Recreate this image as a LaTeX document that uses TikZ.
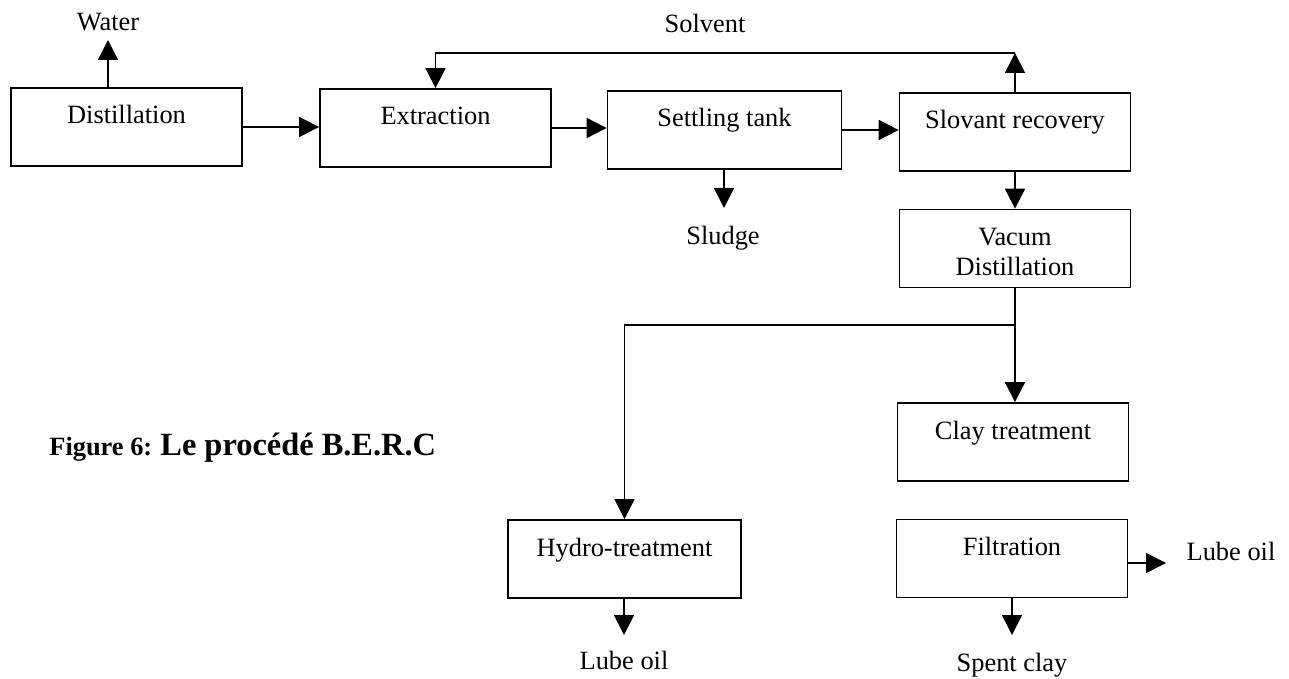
\documentclass[tikz,border=0pt]{standalone}
\usepackage{fontspec}
\setmainfont{Liberation Serif}
\usetikzlibrary{arrows.meta}
\tikzset{
  box/.style={draw, line width=0.9pt, inner sep=0pt, minimum width=115.5pt, minimum height=39pt,
    text height=18pt, text depth=21pt, font=\fontsize{13.2}{15}\selectfont},
  lbl/.style={inner sep=0pt, font=\fontsize{13.2}{15}\selectfont},
  arr/.style={line width=0.9pt, -{Triangle[length=10pt,width=10pt]}},
  ln/.style={line width=0.9pt}
}
\begin{document}
\begin{tikzpicture}[x=0.5pt,y=-0.5pt]
\useasboundingbox (0,0) rectangle (1289,679);
% boxes
\node[box] (dist) at (126.5,127) {Distillation};
\node[box] (ext) at (435.5,128) {Extraction};
\node[box, minimum width=117pt] (settle) at (724.5,130) {Settling tank};
\node[box] (slov) at (1015,132) {Slovant recovery};
\node[box] (vac) at (1015,248.5) {\begin{tabular}[t]{@{}c@{}}Vacum\\Distillation\end{tabular}};
\node[box] (clay) at (1013,442) {Clay treatment};
\node[box] (filt) at (1012,558.5) {Filtration};
\node[box, minimum width=116.5pt] (hydro) at (624.5,559) {Hydro-treatment};
% labels
\node[lbl] (water) at (108,22) {Water};
\node[lbl] (solvent) at (705,23) {Solvent};
\node[lbl] (sludge) at (723,238) {Sludge};
\node[lbl] (lube1) at (624,660) {Lube oil};
\node[lbl] (spent) at (1012,665) {Spent clay};
\node[lbl] (lube2) at (1231,551) {Lube oil};
\node[anchor=base west, inner sep=0pt, font=\bfseries\fontsize{13.2}{15}\selectfont] (figlbl) at (49,455) {Figure 6:};
\node[anchor=base west, inner sep=0pt, font=\bfseries\fontsize{16.2}{18}\selectfont] (figtitle) at (160,455) {Le procédé B.E.R.C};
% coordinates
\coordinate (wtip) at (108,40);
\coordinate (sv) at (1015,53);
\coordinate (sltip) at (724,208);
\coordinate (br) at (1015,325);
\coordinate (h1tip) at (624,635);
\coordinate (sctip) at (1012,635);
\coordinate (l2tip) at (1166,563);
% connectors
\draw[arr] (wtip |- dist.north) -- (wtip);
\draw[arr] (dist.east) -- (dist.east -| ext.west);
\draw[arr] (ext.east) -- (ext.east -| settle.west);
\draw[arr] (settle.east) -- (settle.east -| slov.west);
\draw[arr] (slov.north) -- (sv);
\draw[arr] (sv) -| (ext.north);
\draw[arr] (sltip |- settle.south) -- (sltip);
\draw[arr] (slov.south) -- (vac.north);
\draw[arr] (vac.south) -- (vac.south |- clay.north);
\draw[arr] (br) -| (hydro.north);
\draw[arr] (h1tip |- hydro.south) -- (h1tip);
\draw[arr] (sctip |- filt.south) -- (sctip);
\draw[arr] (l2tip -| filt.east) -- (l2tip);
\end{tikzpicture}
\end{document}
